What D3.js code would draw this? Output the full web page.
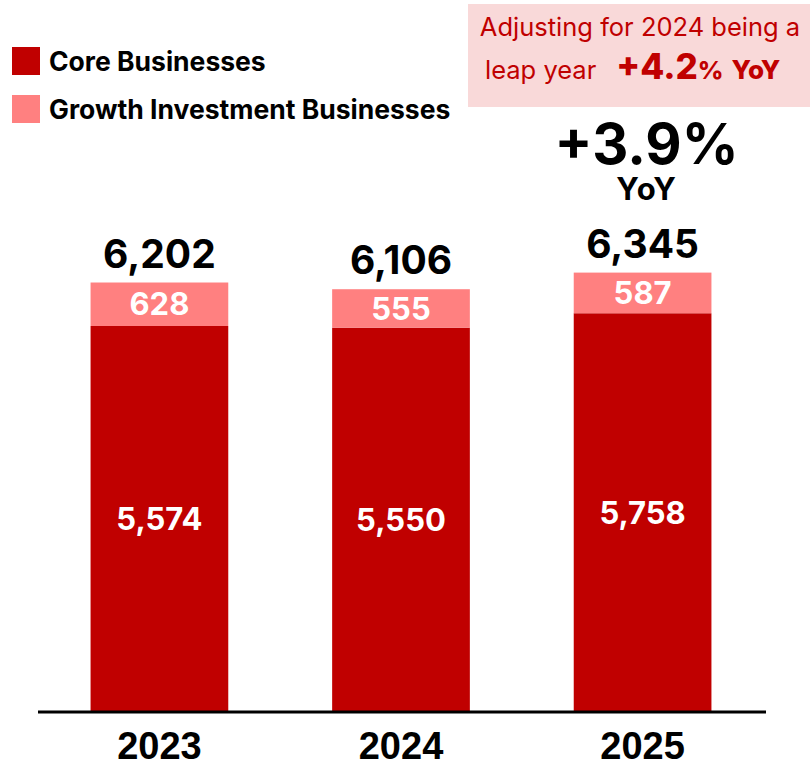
<!DOCTYPE html>
<html>
<head>
<meta charset="utf-8">
<script src="https://cdn.jsdelivr.net/npm/d3@7"></script>
<style>
  html, body { margin: 0; padding: 0; background: #fff; }
  svg { display: block; }
</style>
</head>
<body>
<svg id="chart" width="810" height="766"></svg>
<script>
// Revenue by segment
const years = ["2023", "2024", "2025"];
const coreValues = [5574, 5550, 5758];
const growthValues = [628, 555, 587];
const totalValues = [6202, 6106, 6345];
const seriesNames = ["Core Businesses", "Growth Investment Businesses"];
const seriesColors = ["#c00000", "#ff8080"];
const yoyLabel = "+3.9%";
const adjustedYoyLabel = "+4.2%";

const font = "Inter, 'Noto Sans', sans-serif";
const svg = d3.select("#chart");

const x = d3.scaleBand().domain(years).range([35, 767]).paddingInner(0.43).paddingOuter(0.23);
const y = d3.scaleLinear().domain([0, 6345]).range([712, 272.6]);

const rows = years.map((yr, i) => ({ year: yr, core: coreValues[i], growth: growthValues[i], total: totalValues[i] }));
const stack = d3.stack().keys(["core", "growth"])(rows);

const g = svg.append("g");
stack.forEach((layer, li) => {
  g.selectAll(null).data(layer).join("rect")
    .attr("x", d => x(d.data.year))
    .attr("width", x.bandwidth())
    .attr("y", d => y(d[1]))
    .attr("height", d => y(d[0]) - y(d[1]))
    .attr("fill", seriesColors[li]);
});

// segment values
stack.forEach(layer => {
  g.selectAll(null).data(layer).join("text")
    .attr("x", d => x(d.data.year) + x.bandwidth() / 2)
    .attr("y", d => (y(d[0]) + y(d[1])) / 2)
    .attr("dy", "0.36em")
    .attr("text-anchor", "middle")
    .attr("fill", "#fff")
    .attr("font-family", font)
    .attr("font-weight", 700)
    .attr("font-size", 31)
    .text(d => d3.format(",")(d[1] - d[0]));
});

// totals
g.selectAll(null).data(rows).join("text")
  .attr("x", d => x(d.year) + x.bandwidth() / 2)
  .attr("y", d => y(d.total) - 15)
  .attr("text-anchor", "middle")
  .attr("fill", "#000")
  .attr("font-family", font)
  .attr("font-weight", 700)
  .attr("font-size", 39)
  .text(d => d3.format(",")(d.total));

// axis
const axis = svg.append("g").attr("transform", "translate(0,712)")
  .call(d3.axisBottom(x).tickSize(0).tickPadding(20));
axis.select(".domain").attr("stroke", "#000").attr("stroke-width", 3).attr("d", "M38,0H766");
axis.selectAll(".tick text")
  .attr("fill", "#000")
  .attr("font-family", "'Liberation Sans Narrow', 'Arial Narrow', sans-serif")
  .attr("font-weight", 700)
  .attr("font-size", 38)
  .attr("dy", "0.71em");

// legend
const legend = svg.append("g");
seriesNames.forEach((name, i) => {
  const ly = 47 + i * 48;
  legend.append("rect").attr("x", 12).attr("y", ly).attr("width", 28).attr("height", 28).attr("fill", seriesColors[i]);
  legend.append("text").attr("x", 49).attr("y", ly + 24)
    .attr("font-family", font).attr("font-weight", 700).attr("font-size", 26.5)
    .attr("fill", "#000").text(name);
});

// adjusted YoY note
const note = svg.append("g");
note.append("rect").attr("x", 468).attr("y", 4).attr("width", 342).attr("height", 103).attr("fill", "#f9d9d9");
note.append("text").attr("x", 640).attr("y", 36).attr("text-anchor", "middle")
  .attr("font-family", font).attr("font-size", 25.5).attr("fill", "#c00000")
  .text("Adjusting for 2024 being a");
const line2 = note.append("text").attr("x", 485).attr("y", 79)
  .attr("font-family", font).attr("fill", "#c00000");
line2.append("tspan").attr("font-size", 25.5).text("leap year");
line2.append("tspan").attr("dx", 20).attr("font-size", 35).attr("font-weight", 800).text(adjustedYoyLabel.replace("%", ""));
line2.append("tspan").attr("font-size", 25).attr("font-weight", 800).text("%");
line2.append("tspan").attr("dx", 8).attr("font-size", 26).attr("font-weight", 800).text("YoY");

// 2025 YoY
const cx = x("2025") + x.bandwidth() / 2 + 4;
svg.append("text").attr("x", cx).attr("y", 164).attr("text-anchor", "middle")
  .attr("font-family", font).attr("font-weight", 700).attr("font-size", 56).attr("fill", "#000")
  .text(yoyLabel);
svg.append("text").attr("x", cx).attr("y", 200).attr("text-anchor", "middle")
  .attr("font-family", font).attr("font-weight", 700).attr("font-size", 31)
  .attr("letter-spacing", 1).attr("fill", "#000")
  .text("YoY");
</script>
</body>
</html>
